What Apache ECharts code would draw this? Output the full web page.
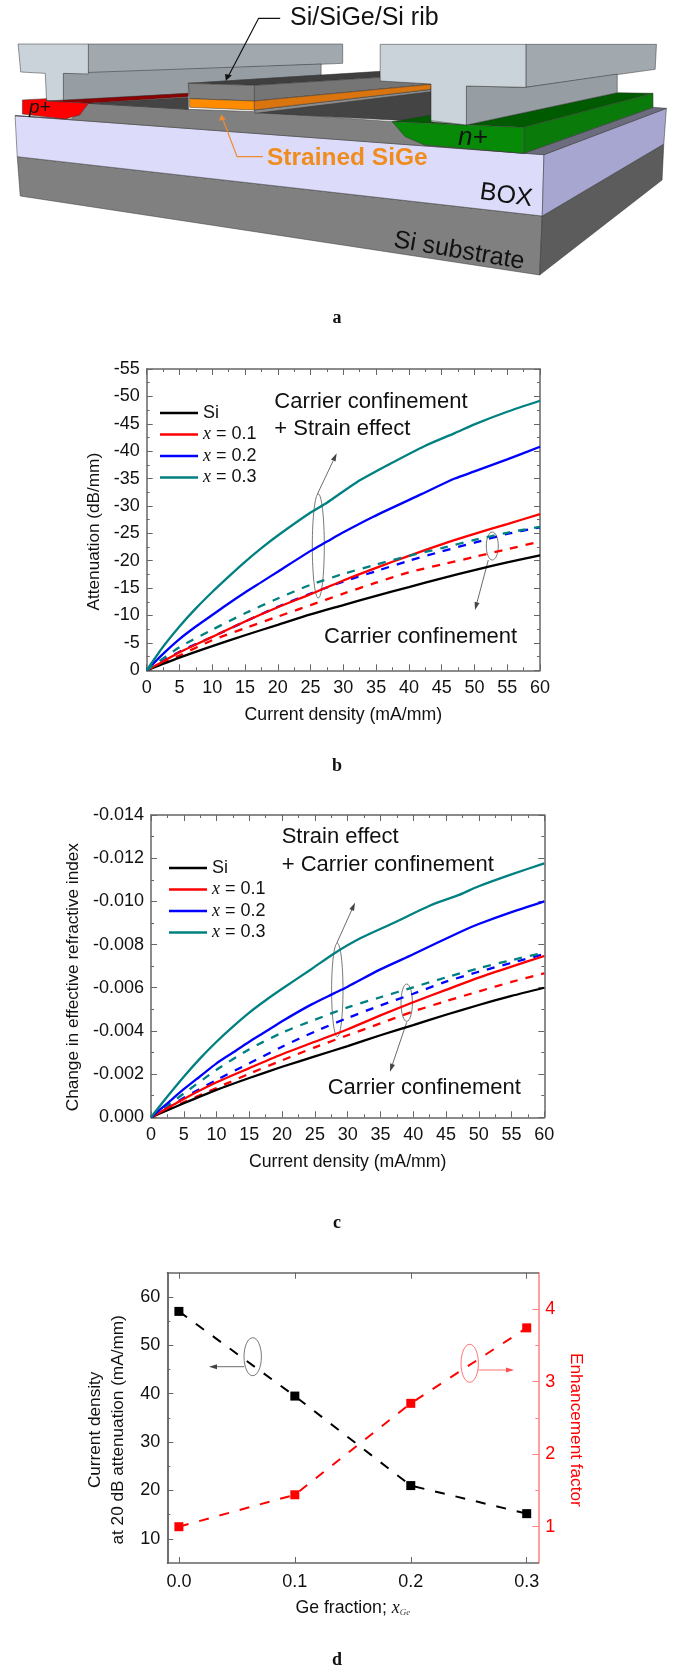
<!DOCTYPE html>
<html><head><meta charset="utf-8">
<style>html,body{margin:0;padding:0;background:#fff}#c{width:675px;height:1674px}</style>
<script src="https://cdn.jsdelivr.net/npm/echarts@6/dist/echarts.min.js"></script>
</head><body><div id="c"></div>
<script>
// ---------- panel b: attenuation (dB/mm) vs current density (mA/mm) ----------
const bSiX   = [0,5,10,15,20,25,30,35,40,45,50,55,60];
const bSiY   = [0,-2.3,-4.4,-6.4,-8.3,-10.2,-11.9,-13.6,-15.2,-16.8,-18.3,-19.7,-21];
const bX1X   = [0,2.5,5,7.5,10,15,20,25,30,35,40,45,50,55,60];
const bX1Y   = [0,-1.6,-3.3,-4.7,-6.1,-8.9,-11.5,-13.9,-16.4,-18.7,-20.9,-23,-24.9,-26.7,-28.5];
const bX2X   = [0,2.5,5,7.5,10,12.5,15,17.5,20,25,27.5,30,34.5,42,47,50,55,60];
const bX2Y   = [0,-3,-5.7,-8,-10.1,-12.2,-14.2,-16.1,-18,-21.8,-23.5,-25.2,-28,-32.2,-35,-36.3,-38.5,-40.8];
const bX3X   = [0,2.5,5,7.5,10,12.5,15,17.5,20,25,27.5,32,37,42.5,47,50,55,60];
const bX3Y   = [0,-4.3,-8,-11.3,-14.3,-17.1,-19.8,-22.3,-24.6,-28.8,-30.6,-34.3,-37.6,-41,-43.3,-44.9,-47.2,-49.2];
const bDashX = [0,5,10,15,20,25,30,35,40,45,50,55,60];
const bD1Y   = [0,-2.7,-5.5,-7.7,-9.8,-11.9,-14,-16,-17.9,-19.3,-20.7,-22.1,-23.5];
const bD2Y   = [0,-3.4,-6.1,-8.9,-11.6,-14,-16.2,-18.1,-20,-21.7,-23.3,-24.9,-26.1];
const bD3Y   = [0,-4.2,-7.4,-10.4,-13.1,-15.6,-17.6,-19.3,-20.9,-22.3,-23.8,-25.1,-26.2];

// ---------- panel c: change in effective refractive index (x 1e-3 in the lists) ----------
const cSiX   = [0,5,10,15,20,25,30,35,40,45,50,55,60];
const cSiY   = [0,-0.65,-1.27,-1.82,-2.34,-2.82,-3.3,-3.8,-4.27,-4.75,-5.2,-5.62,-6];
const cX1X   = [0,5,10,15,20,25,30,35,40,45,50,55,60];
const cX1Y   = [0,-0.85,-1.62,-2.28,-2.92,-3.5,-4.08,-4.72,-5.33,-5.9,-6.47,-6.98,-7.47];
const cX2X   = [0,2.5,5,7.5,10,12.5,15,17.5,20,24.5,28,30,35,40,47.5,50,55,60];
const cX2Y   = [0,-0.65,-1.3,-1.9,-2.5,-3,-3.5,-3.97,-4.45,-5.23,-5.75,-6.05,-6.85,-7.55,-8.63,-8.95,-9.5,-10];
const cX3X   = [0,2.5,5,7.5,10,12.5,15,17.5,20,24.5,28,32,37,42.5,47,50,55,60];
const cX3Y   = [0,-0.96,-1.88,-2.73,-3.5,-4.2,-4.85,-5.42,-5.95,-6.87,-7.6,-8.3,-9,-9.8,-10.3,-10.7,-11.25,-11.76];
const cDashX = [0,5,10,15,20,25,30,35,40,45,50,55,60];
const cD1Y   = [0,-0.7,-1.36,-2.02,-2.64,-3.24,-3.8,-4.35,-4.9,-5.38,-5.83,-6.27,-6.67];
const cD2Y   = [0,-0.9,-1.73,-2.5,-3.27,-3.97,-4.6,-5.18,-5.72,-6.28,-6.74,-7.15,-7.56];
const cD3Y   = [0,-1.1,-2.2,-3.15,-3.92,-4.52,-5.09,-5.56,-6.02,-6.48,-6.9,-7.28,-7.62];

// ---------- panel d ----------
const dX     = [0,0.1,0.2,0.3];
const dCur   = [57,39.5,21,15.2];
const dEnh   = [1,1.44,2.7,3.74];
const dYTicks      = [10,20,30,40,50,60];
const dYMinor      = [15,25,35,45,55];
const dXTicks      = [0,0.1,0.2,0.3];
const dRTicks      = [1,2,3,4];
const dRMinor      = [1.5,2.5,3.5];

const legendNames = ['Si','x = 0.1','x = 0.2','x = 0.3'];
const BLACK='#000', RED='#ff0000', BLUE='#0000ff', TEAL='#008080';
const FONT='"Liberation Sans",Arial,sans-serif', SERIF='"Liberation Serif","Times New Roman",serif';
const FS=18, TS=17.7, YS=17.2, AX='#666';

const zip=(a,b,k=1)=>a.map((v,i)=>[v,b[i]*k]);
const solid=(name,x,y,c,gi,k)=>({type:'line',name,xAxisIndex:gi*2,yAxisIndex:gi*2,data:zip(x,y,k),symbol:'none',smooth:0.25,
  lineStyle:{color:c,width:2.3},itemStyle:{color:c},z:3});
const dash=(name,x,y,c,gi,k,z)=>({type:'line',name,xAxisIndex:gi*2,yAxisIndex:gi*2,data:zip(x,y,k),symbol:'none',smooth:0.25,
  lineStyle:{color:c,width:2.3,type:[8,8]},itemStyle:{color:c},z});

const mainLine={show:true,onZero:false,lineStyle:{color:AX,width:1.5}};
const label={color:'#111',fontFamily:FONT,fontSize:FS};
const xBase=(gi)=>({type:'value',gridIndex:gi,min:0,max:60,interval:5,splitLine:{show:false},axisLine:mainLine,
  axisTick:{inside:true,length:6,lineStyle:{color:AX,width:1}},minorTick:{show:true,splitNumber:2,length:3,lineStyle:{color:AX,width:1}}});
const yBase=(gi,min,interval,minor)=>({type:'value',gridIndex:gi,min,max:0,interval,inverse:true,splitLine:{show:false},axisLine:mainLine,
  axisTick:{inside:true,length:6,lineStyle:{color:AX,width:1}},minorTick:{show:true,splitNumber:minor,length:3,lineStyle:{color:AX,width:1}}});

const xName=(t)=>({name:t,nameLocation:'middle',nameGap:36,nameTextStyle:{color:'#111',fontFamily:FONT,fontSize:TS}});
const hidden={show:false};

const xAxis=[
  {...xBase(0),position:'bottom',axisLabel:{...label,margin:9,hideOverlap:false},...xName('Current density (mA/mm)')},
  {...xBase(0),position:'top',axisLabel:hidden},
  {...xBase(1),position:'bottom',axisLabel:{...label,margin:9},...xName('Current density (mA/mm)')},
  {...xBase(1),position:'top',axisLabel:hidden},
  {type:'value',gridIndex:2,position:'bottom',min:-0.01,max:0.31,splitLine:hidden,axisLine:mainLine,
    axisTick:{inside:true,length:6,customValues:dXTicks,lineStyle:{color:AX}},
    axisLabel:{...label,margin:10,customValues:dXTicks,formatter:v=>v.toFixed(1)},
    name:'Ge fraction; {i|x}{s|Ge}',nameLocation:'middle',nameGap:36,
    nameTextStyle:{color:'#111',fontFamily:FONT,fontSize:TS,rich:{
      i:{fontFamily:SERIF,fontStyle:'italic',fontSize:FS,color:'#111'},
      s:{fontFamily:SERIF,fontStyle:'italic',fontSize:9,color:'#444',verticalAlign:'bottom',padding:[8,0,0,0]}}}},
  {type:'value',gridIndex:2,position:'top',min:-0.01,max:0.31,splitLine:hidden,axisLine:mainLine,
    axisTick:{inside:true,length:6,customValues:dXTicks,lineStyle:{color:AX}},axisLabel:{show:false,customValues:dXTicks}}
];
const yAxis=[
  {...yBase(0,-55,5,2),position:'left',axisLabel:{...label,margin:7},
    name:'Attenuation (dB/mm)',nameLocation:'middle',nameGap:33,nameTextStyle:{color:'#111',fontFamily:FONT,fontSize:YS,padding:[0,24,0,0]}},
  {...yBase(0,-55,5,2),position:'right',axisLabel:hidden},
  {...yBase(1,-14,2,2),position:'left',axisLabel:{...label,margin:7,formatter:v=>(v/1000).toFixed(3)},
    name:'Change in effective refractive index',nameLocation:'middle',nameGap:55,nameTextStyle:{color:'#111',fontFamily:FONT,fontSize:YS,padding:[0,22,0,0]}},
  {...yBase(1,-14,2,2),position:'right',axisLabel:hidden},
  {type:'value',gridIndex:2,position:'left',min:5,max:65,splitLine:hidden,axisLine:mainLine,
    axisTick:{inside:true,length:6,customValues:dYTicks,lineStyle:{color:AX}},
    axisLabel:{...label,margin:7,customValues:dYTicks},
    name:'Current density\nat 20 dB attenuation (mA/mm)',nameLocation:'middle',nameGap:31,
    nameTextStyle:{color:'#111',fontFamily:FONT,fontSize:YS,lineHeight:23,padding:[0,24,0,0]}},
  {type:'value',gridIndex:2,position:'left',min:5,max:65,splitLine:hidden,axisLine:mainLine,
    axisTick:{inside:true,length:3,customValues:dYMinor,lineStyle:{color:AX}},axisLabel:{show:false,customValues:dYMinor}},
  {type:'value',gridIndex:2,position:'right',min:0.5,max:4.5,splitLine:hidden,axisLine:{show:true,onZero:false,lineStyle:{color:'#ff8080',width:1.5}},
    axisTick:{inside:true,length:6,customValues:dRTicks,lineStyle:{color:'#ff8080'}},
    axisLabel:{color:RED,fontFamily:FONT,fontSize:FS,margin:7,customValues:dRTicks},
    name:'Enhancement factor',nameLocation:'middle',nameRotate:-90,nameGap:29,
    nameTextStyle:{color:RED,fontFamily:FONT,fontSize:YS,padding:[0,0,0,24]}},
  {type:'value',gridIndex:2,position:'right',min:0.5,max:4.5,splitLine:hidden,axisLine:{show:false,onZero:false},
    axisTick:{inside:true,length:3,customValues:dRMinor,lineStyle:{color:'#ff8080'}},axisLabel:{show:false,customValues:dRMinor}}
];

const series=[
  dash('b dashed 0.1',bDashX,bD1Y,RED,0,1,2),
  dash('b dashed 0.2',bDashX,bD2Y,BLUE,0,1,2),
  solid('Si',bSiX,bSiY,BLACK,0,1),
  solid('x = 0.1',bX1X,bX1Y,RED,0,1),
  solid('x = 0.2',bX2X,bX2Y,BLUE,0,1),
  solid('x = 0.3',bX3X,bX3Y,TEAL,0,1),
  dash('b dashed 0.3',bDashX,bD3Y,TEAL,0,1,4),

  dash('c dashed 0.1',cDashX,cD1Y,RED,1,1,2),
  dash('c dashed 0.2',cDashX,cD2Y,BLUE,1,1,2),
  dash('c dashed 0.3',cDashX,cD3Y,TEAL,1,1,2),
  solid('Si',cSiX,cSiY,BLACK,1,1),
  solid('x = 0.1',cX1X,cX1Y,RED,1,1),
  solid('x = 0.2',cX2X,cX2Y,BLUE,1,1),
  solid('x = 0.3',cX3X,cX3Y,TEAL,1,1),

  {type:'line',name:'Current density',xAxisIndex:4,yAxisIndex:4,data:zip(dX,dCur),symbol:'rect',symbolSize:9,
    lineStyle:{color:BLACK,width:2,type:[10,11]},itemStyle:{color:BLACK}},
  {type:'line',name:'Enhancement factor',xAxisIndex:4,yAxisIndex:6,data:zip(dX,dEnh),symbol:'rect',symbolSize:9,
    lineStyle:{color:RED,width:2,type:[10,11]},itemStyle:{color:RED}}
];

const legend=(left,top)=>({left,top,orient:'vertical',data:legendNames,icon:'rect',itemWidth:38,itemHeight:2.4,itemGap:1.5,
  selectedMode:false,padding:0,
  formatter:n=>n==='Si'?n:n.replace('x','{i|x}'),
  textStyle:{color:'#111',fontFamily:FONT,fontSize:FS,lineHeight:20,rich:{i:{fontFamily:SERIF,fontStyle:'italic',fontSize:FS,lineHeight:20,color:'#111'}}}});

// ---------- drawn annotation helpers ----------
const txt=(x,y,t,fs,o={})=>({type:'text',x,y,rotation:o.rot||0,silent:true,
  style:{text:t,font:`${o.weight||'normal'} ${fs}px ${o.family||FONT}`,fill:o.color||'#111',textAlign:o.align||'left',textVerticalAlign:'middle',...(o.style||{})}});
const ell=(cx,cy,rx,ry,c='#555')=>({type:'ellipse',silent:true,shape:{cx,cy,rx,ry},style:{fill:null,stroke:c,lineWidth:.8}});
const arrow=(x1,y1,x2,y2,c='#444',w=.8,hl=8)=>{
  const a=Math.atan2(y2-y1,x2-x1),bx=x2-hl*Math.cos(a),by=y2-hl*Math.sin(a),nx=-Math.sin(a)*2.5,ny=Math.cos(a)*2.5;
  return [{type:'line',silent:true,shape:{x1,y1,x2:bx,y2:by},style:{stroke:c,lineWidth:w}},
          {type:'polygon',silent:true,shape:{points:[[x2,y2],[bx+nx,by+ny],[bx-nx,by-ny]]},style:{fill:c}}];
};
// schematic (panel a) outline, in a 2.32 x 3 sketch space
const SX=1/2.32, SY=1/3;
const poly=(pts,fill,stroke='#333')=>({type:'polygon',silent:true,shape:{points:pts.map(p=>[p[0]*SX,p[1]*SY])},style:{fill,stroke,lineWidth:.5}});
const CF='#c9d3d9', CS='#a1a9af', CS2='#969ea4';
const schematic=[
  poly([[40,470],[1258,648],[1252,825],[47,588]],'#808080'),
  poly([[1258,648],[1540,432],[1536,540],[1252,825]],'#5c5c5c'),
  poly([[35,347],[1262,464],[1258,648],[40,470]],'#dcdcfa'),
  poly([[1262,464],[1546,325],[1540,432],[1258,648]],'#a6a6d0'),
  poly([[1215,460],[1515,322],[1546,325],[1262,464]],'#6c6c7e'),
  poly([[35,347],[1215,460],[985,435],[910,365],[592,335],[440,328],[205,310],[165,357]],'#808080'),
  poly([[205,310],[437,292],[437,328]],'#444444'),
  poly([[592,338],[1000,273],[1000,365],[910,360]],'#444444'),
  // left contact
  poly([[205,132],[795,132],[795,190],[205,222]],CS),
  poly([[147,220],[745,192],[745,225],[437,250],[437,280],[147,305]],CS2),
  poly([[42,132],[205,132],[205,222],[147,220],[147,305],[108,303],[105,220],[48,216]],CF),
  // p+
  poly([[108,303],[205,310],[437,290],[437,280]],'#8b0000'),
  poly([[52,300],[108,296],[108,303],[205,310],[185,345],[150,357],[52,342]],'#ff0000'),
  // rib
  poly([[437,250],[590,256],[882,232],[882,214]],'#3f3f3f'),
  poly([[590,256],[882,232],[1000,252],[1000,253],[590,303]],'#757575'),
  poly([[437,250],[590,256],[590,303],[440,296]],'#808080'),
  poly([[590,330],[1000,268],[1000,275],[592,340]],'#8a8a8a'),
  poly([[590,303],[1000,253],[1000,268],[590,330]],'#d9740f'),
  poly([[440,296],[590,303],[590,330],[440,322]],'#ff8c00'),
  // green n+
  poly([[910,365],[1000,345],[1000,365],[1082,375],[1430,278],[1515,280],[1215,382]],'#005a00'),
  poly([[1215,382],[1515,280],[1515,322],[1215,460]],'#0a7a0a'),
  poly([[910,365],[1082,375],[1215,382],[1215,460],[985,435],[940,410]],'#078a07'),
  // right contact
  poly([[1220,133],[1523,133],[1520,208],[1220,262]],CS),
  poly([[1082,258],[1220,262],[1432,222],[1432,278],[1082,375]],CS2),
  poly([[882,133],[1220,133],[1220,262],[1082,258],[1082,375],[1000,362],[1000,252],[882,243]],CF),
  // leader lines
  {type:'polyline',silent:true,shape:{points:[[650*SX,55*SY],[600*SX,55*SY],[530*SX,228*SY]]},style:{stroke:'#111',lineWidth:1.2,fill:null}},
  {type:'polygon',silent:true,shape:{points:[[524*SX,242*SY],[522*SX,222*SY],[538*SX,226*SY]]},style:{fill:'#111'}},
  {type:'polyline',silent:true,shape:{points:[[610*SX,470*SY],[550*SX,470*SY],[517*SX,358*SY]]},style:{stroke:'#f08a30',lineWidth:1.2,fill:null}},
  {type:'polygon',silent:true,shape:{points:[[513*SX,344*SY],[508*SX,362*SY],[524*SX,358*SY]]},style:{fill:'#f08a30'}},
  txt(290,18,'Si/SiGe/Si rib',25),
  txt(267,158,'Strained SiGe',24.5,{weight:'bold',color:'#f08c1e',style:{shadowColor:'rgba(90,90,90,.55)',shadowBlur:2,shadowOffsetX:1,shadowOffsetY:1}}),
  txt(480,192,'BOX',25,{rot:-0.14}),
  txt(394,240,'Si substrate',25,{rot:-0.17}),
  txt(29,108,'p+',19,{weight:'italic'}),
  txt(458,138,'n+',26,{weight:'italic'})
];

const annotations=[
  ell(318.3,546,6,52),...arrow(317.3,494.3,336.7,453.3),
  ell(492.3,546,6,14),...arrow(488.3,560,475,610),
  txt(274.3,401.7,'Carrier confinement',22),
  txt(274.3,429.3,'+ Strain effect',22),
  txt(324,636.7,'Carrier confinement',22),

  ell(337.3,990,5.7,46.7),...arrow(336.7,943.3,355,902.7),
  ell(406.7,1002.7,5.7,18.7),...arrow(406.7,1022.3,390,1071.7),
  txt(281.7,837.3,'Strain effect',22),
  txt(281.7,865,'+ Carrier confinement',22),
  txt(327.7,1088.3,'Carrier confinement',22),

  ell(252.7,1356.7,8.7,19),...arrow(244.3,1366.7,209,1366.7),
  ell(469.7,1363.3,8.7,19,'#ff5050'),...arrow(478.3,1370,514,1370,'#ff5050'),

  txt(337,318,'a',18,{weight:'bold',family:SERIF,align:'center'}),
  txt(337,766,'b',18,{weight:'bold',family:SERIF,align:'center'}),
  txt(337,1223,'c',18,{weight:'bold',family:SERIF,align:'center'}),
  txt(337,1660,'d',18,{weight:'bold',family:SERIF,align:'center'})
];

const chart=echarts.init(document.getElementById('c'),null,{renderer:'canvas'});
chart.setOption({
  animation:false,backgroundColor:'#fff',
  grid:[
    {left:146.7,top:369,width:393.3,height:301.3},
    {left:151,top:815,width:393.3,height:302.3},
    {left:167.3,top:1272.7,width:371,height:290.3}
  ],
  xAxis,yAxis,series,
  legend:[legend(160,403),legend(169,858)],
  graphic:{elements:[...schematic,...annotations]}
});
</script></body></html>
